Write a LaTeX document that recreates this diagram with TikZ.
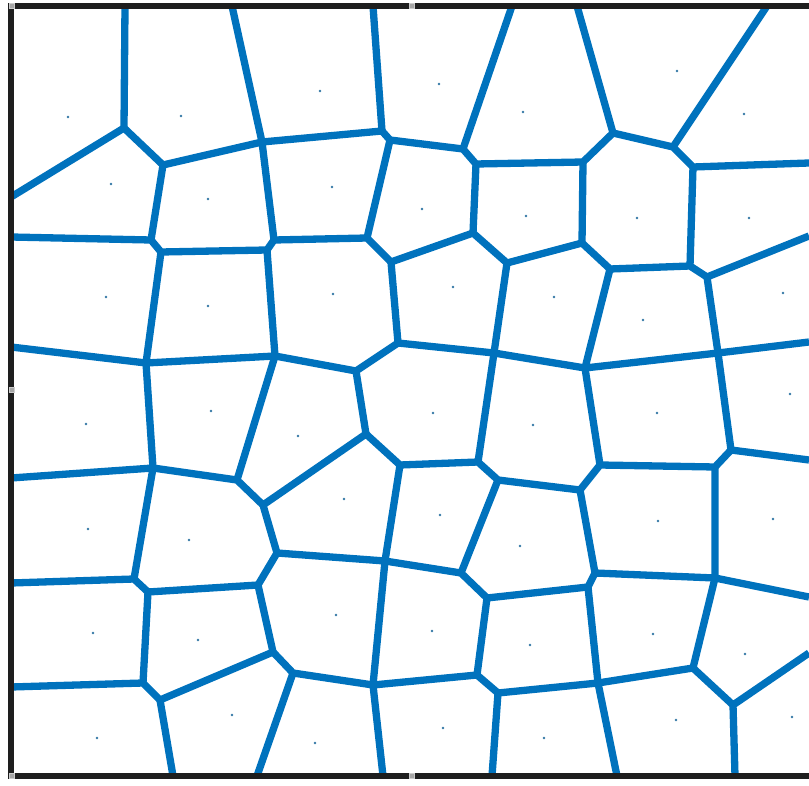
\documentclass[tikz,border=0pt]{standalone}
\usepackage{tikz}
\definecolor{vblue}{RGB}{0,114,189}
\definecolor{frameblack}{RGB}{30,30,30}

\begin{document}
\begin{tikzpicture}[x=1pt, y=-1pt,
    edge/.style={draw=vblue, line width=7.3pt, line join=round},
    frame/.style={draw=frameblack, line width=5.5pt},
    seed/.style={fill=vblue!60!gray},
    handle/.style={draw=gray!40, fill=gray!70, line width=0.6pt, minimum size=5pt, inner sep=0pt}
]
    \useasboundingbox (0,0) rectangle (809,786);

    % ends on the frame
    \coordinate (t1) at (125,6);  \coordinate (t2) at (232,6);  \coordinate (t3) at (373,6);
    \coordinate (t4) at (512,6);  \coordinate (t5) at (577,6);  \coordinate (t6) at (767,6);
    \coordinate (l1) at (11,197); \coordinate (l2) at (11,237); \coordinate (l3) at (11,347);
    \coordinate (l4) at (11,478); \coordinate (l5) at (11,583); \coordinate (l6) at (11,687);
    \coordinate (b1) at (173,776); \coordinate (b2) at (257,776); \coordinate (b3) at (383,776);
    \coordinate (b4) at (492,776); \coordinate (b5) at (617,776); \coordinate (b6) at (735,776);
    \coordinate (r1) at (809,163); \coordinate (r2) at (809,236); \coordinate (r3) at (809,342);
    \coordinate (r4) at (809,460); \coordinate (r5) at (809,597); \coordinate (r6) at (809,653);

    % cell corners
    \coordinate (A1) at (124,128); \coordinate (A2) at (262,142); \coordinate (A3) at (382,131);
    \coordinate (A3b) at (390,140); \coordinate (A4) at (463,149); \coordinate (A5) at (613,133);
    \coordinate (A6) at (673,147);
    \coordinate (B1) at (163,165); \coordinate (B4) at (476,164); \coordinate (B5) at (583,162);
    \coordinate (B7) at (693,167);
    \coordinate (C1a) at (151,240); \coordinate (C1b) at (161,252); \coordinate (C2) at (274,240);
    \coordinate (C2b) at (267,250); \coordinate (C3) at (367,238); \coordinate (C4) at (391,262);
    \coordinate (C5) at (473,233); \coordinate (C5b) at (507,263); \coordinate (C6) at (582,243);
    \coordinate (C7) at (610,269); \coordinate (C8) at (690,266); \coordinate (C9) at (707,277);
    \coordinate (D1) at (146,363); \coordinate (D2) at (275,356); \coordinate (D3) at (356,371);
    \coordinate (D4) at (398,343); \coordinate (D5) at (494,353); \coordinate (D6) at (585,368);
    \coordinate (D8) at (718,353);
    \coordinate (E1) at (153,468); \coordinate (E2) at (237,480); \coordinate (E3) at (263,505);
    \coordinate (E4) at (366,434); \coordinate (E5) at (400,465); \coordinate (E6) at (478,462);
    \coordinate (E7) at (498,480); \coordinate (E8) at (580,490); \coordinate (E9) at (600,465);
    \coordinate (E10) at (715,467); \coordinate (E11) at (731,450);
    \coordinate (F1a) at (134,579); \coordinate (F1b) at (148,592); \coordinate (F2) at (258,585);
    \coordinate (F3) at (277,553); \coordinate (F4) at (385,561); \coordinate (F6) at (461,573);
    \coordinate (F7) at (487,598); \coordinate (F8) at (595,573); \coordinate (F8b) at (588,587);
    \coordinate (F10) at (715,578);
    \coordinate (G1) at (143,683); \coordinate (G1b) at (160,700); \coordinate (G2) at (273,652);
    \coordinate (G2b) at (293,673); \coordinate (G3) at (373,685); \coordinate (G6) at (477,675);
    \coordinate (G7) at (498,693); \coordinate (G8) at (598,683); \coordinate (G10) at (693,668);
    \coordinate (G11) at (733,705);

    % rows
    \draw[edge] (l1) -- (A1) -- (B1) -- (A2) -- (A3) -- (A3b) -- (A4) -- (B4) -- (B5) -- (A5) -- (A6) -- (B7) -- (r1);
    \draw[edge] (l2) -- (C1a) -- (C1b) -- (C2b) -- (C2) -- (C3) -- (C4) -- (C5) -- (C5b) -- (C6) -- (C7) -- (C8) -- (C9) -- (r2);
    \draw[edge] (l3) -- (D1) -- (D2) -- (D3) -- (D4) -- (D5) -- (D6) -- (D8) -- (r3);
    \draw[edge] (l4) -- (E1) -- (E2) -- (E3) -- (E4) -- (E5) -- (E6) -- (E7) -- (E8) -- (E9) -- (E10) -- (E11) -- (r4);
    \draw[edge] (l5) -- (F1a) -- (F1b) -- (F2) -- (F3) -- (F4) -- (F6) -- (F7) -- (F8b) -- (F8) -- (F10) -- (r5);
    \draw[edge] (l6) -- (G1) -- (G1b) -- (G2) -- (G2b) -- (G3) -- (G6) -- (G7) -- (G8) -- (G10) -- (G11) -- (r6);

    % columns
    \draw[edge] (t1) -- (A1);
    \draw[edge] (t2) -- (A2) -- (C2);
    \draw[edge] (C2b) -- (D2) -- (E2);
    \draw[edge] (t3) -- (A3);
    \draw[edge] (A3b) -- (C3);
    \draw[edge] (t4) -- (A4);
    \draw[edge] (t5) -- (A5);
    \draw[edge] (t6) -- (A6);
    \draw[edge] (B1) -- (C1a);
    \draw[edge] (C1b) -- (D1) -- (E1) -- (F1a);
    \draw[edge] (F1b) -- (G1);
    \draw[edge] (G1b) -- (b1);
    \draw[edge] (E3) -- (F3);
    \draw[edge] (F2) -- (G2);
    \draw[edge] (G2b) -- (b2);
    \draw[edge] (C4) -- (D4);
    \draw[edge] (D3) -- (E4);
    \draw[edge] (E5) -- (F4) -- (G3) -- (b3);
    \draw[edge] (B4) -- (C5);
    \draw[edge] (C5b) -- (D5) -- (E6);
    \draw[edge] (E7) -- (F6);
    \draw[edge] (F7) -- (G6);
    \draw[edge] (G7) -- (b4);
    \draw[edge] (B5) -- (C6);
    \draw[edge] (C7) -- (D6) -- (E9);
    \draw[edge] (E8) -- (F8);
    \draw[edge] (F8b) -- (G8) -- (b5);
    \draw[edge] (B7) -- (C8);
    \draw[edge] (C9) -- (D8) -- (E11);
    \draw[edge] (E10) -- (F10) -- (G10);
    \draw[edge] (G11) -- (b6);

    % sites
    \foreach \p in {(68,117),(181,116),(320,91),(439,84),(523,112),(677,71),(744,114),
                    (111,184),(208,199),(332,187),(422,209),(526,216),(637,218),(749,218),
                    (106,297),(208,306),(333,294),(453,287),(554,297),(643,320),(783,293),
                    (86,424),(211,411),(298,436),(433,413),(533,425),(657,413),(790,394),
                    (88,529),(189,540),(344,499),(440,515),(520,546),(658,521),(773,519),
                    (93,633),(198,640),(336,615),(432,631),(530,645),(653,634),(745,654),
                    (97,738),(232,715),(315,743),(443,728),(544,738),(676,720),(792,717)}
        \fill[seed] \p circle (1.3);

    % axes box
    \draw[frame] (809,6) -- (11,6) -- (11,776) -- (809,776);
    \node[handle] (h1) at (12,6) {};
    \node[handle] (h2) at (412,6) {};
    \node[handle] (h3) at (12,390) {};
    \node[handle] (h4) at (12,776) {};
    \node[handle] (h5) at (412,776) {};
\end{tikzpicture}
\end{document}
